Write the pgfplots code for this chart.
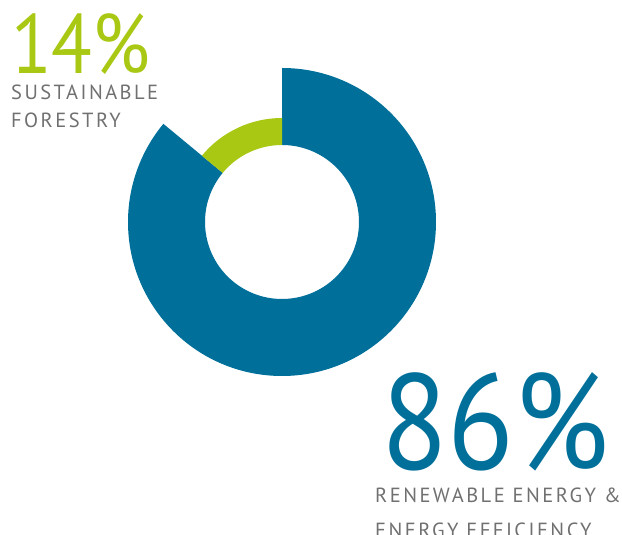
\documentclass[border=0pt]{standalone}
\usepackage{pgfplots}
\usepackage{pgfplotstable}
\usepackage{fontspec}
\pgfplotsset{compat=1.18}
\setmainfont{PT Sans}
\newfontfamily\numfont{PT Sans}
\newfontfamily\labelfont[LetterSpace=12]{PT Sans}
\definecolor{dblue}{HTML}{00709A}
\definecolor{dgreen}{HTML}{A8C813}
\definecolor{dgray}{HTML}{707070}
\pgfplotstableread{
segment value
Forestry 14
Renewable 86
}\datatable
\begin{document}
\begin{tikzpicture}
\clip (0,0) rectangle (622pt,535pt);
\pgfplotstablegetelem{0}{value}\of\datatable \let\vF\pgfplotsretval
\pgfplotstablegetelem{1}{value}\of\datatable \let\vR\pgfplotsretval
\pgfmathsetmacro{\aEnd}{90-3.6*\vR}
\pgfmathsetmacro{\gEnd}{90+3.6*\vF}
\begin{axis}[scale only axis, width=622pt, height=535pt,
  xmin=0, xmax=622, ymin=0, ymax=535, hide axis, clip=false]
\begin{scope}[shift={(axis cs:282,313)}]
\fill[dblue] (90:154pt) arc[start angle=90, end angle=\aEnd, radius=154pt]
  -- (\aEnd:77pt) arc[start angle=\aEnd, end angle=90, radius=77pt] -- cycle;
\fill[dgreen] (90:104pt) arc[start angle=90, end angle=\gEnd, radius=104pt]
  -- (\gEnd:77pt) arc[start angle=\gEnd, end angle=90, radius=77pt] -- cycle;
\end{scope}
\node[anchor=base west, inner sep=0, text=dgreen, font=\numfont\fontsize{84}{84}\selectfont] at (axis cs:11,461) {\scalebox{0.89}[1]{14\%}};
\node[anchor=base west, inner sep=0, text=dgray, font=\labelfont\fontsize{20.5}{20}\selectfont] at (axis cs:11,435) {SUSTAINABLE};
\node[anchor=base west, inner sep=0, text=dgray, font=\labelfont\fontsize{20.5}{20}\selectfont] at (axis cs:11,407) {FORESTRY};
\node[anchor=base west, inner sep=0, text=dblue, font=\numfont\fontsize{136}{136}\selectfont] at (axis cs:381,65) {\scalebox{0.9}[1]{86\%}};
\node[anchor=base west, inner sep=0, text=dgray, font=\labelfont\fontsize{20.5}{20}\selectfont] at (axis cs:375,32) {RENEWABLE ENERGY \&};
\node[anchor=base west, inner sep=0, text=dgray, font=\labelfont\fontsize{20.5}{20}\selectfont] at (axis cs:375,-3) {ENERGY EFFICIENCY};
\end{axis}
\end{tikzpicture}
\end{document}
